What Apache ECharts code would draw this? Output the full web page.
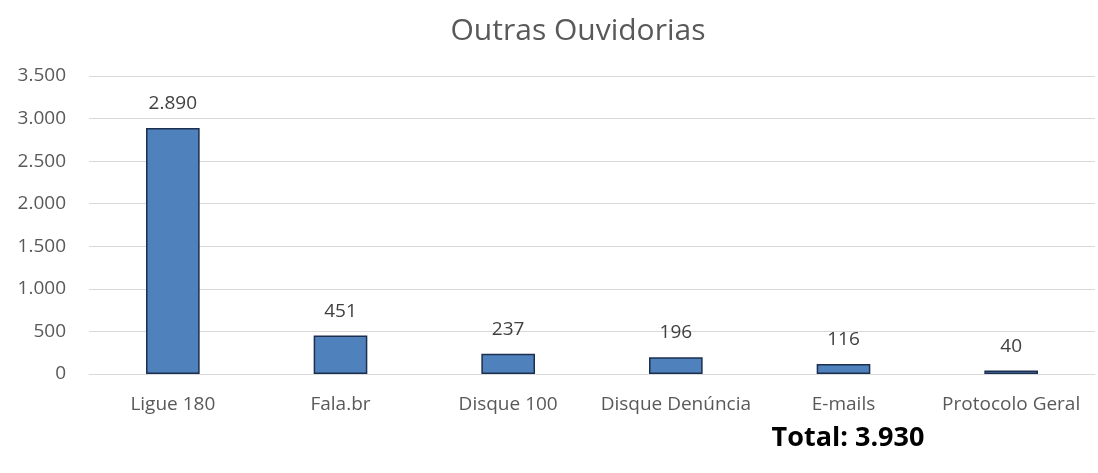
<!DOCTYPE html>
<html>
<head>
<meta charset="utf-8">
<script src="https://cdn.jsdelivr.net/npm/echarts@6/dist/echarts.min.js"></script>
<style>
  html, body { margin: 0; padding: 0; background: #fff; }
  #chart { width: 1098px; height: 473px; }
</style>
</head>
<body>
<div id="chart"></div>
<script>
// dados do gráfico
var categorias = ['Ligue 180', 'Fala.br', 'Disque 100', 'Disque Denúncia', 'E-mails', 'Protocolo Geral'];
var valores = [2890, 451, 237, 196, 116, 40];
var totalTexto = 'Total: 3.930';

function fmt(v) {
    return String(v).replace(/\B(?=(\d{3})+(?!\d))/g, '.');
}

var chart = echarts.init(document.getElementById('chart'));
var fonte = '"Open Sans", "Noto Sans", sans-serif';

var option = {
    animation: false,
    title: [
        {
            text: 'Outras Ouvidorias',
            left: 573,
            top: 11,
            textAlign: 'center',
            textStyle: { fontFamily: fonte, fontSize: 30, fontWeight: 'normal', color: '#595959' }
        },
        {
            text: totalTexto,
            left: 843,
            top: 420,
            textAlign: 'center',
            textStyle: { fontFamily: fonte, fontSize: 27, fontWeight: 'bold', color: '#000' }
        }
    ],
    grid: { left: 89, right: 3, top: 76, bottom: 99, containLabel: false },
    xAxis: {
        type: 'category',
        data: categorias,
        axisLine: { lineStyle: { color: '#d9d9d9', width: 1 } },
        axisTick: { show: false },
        axisLabel: { color: '#595959', fontFamily: fonte, fontSize: 19, margin: 21, interval: 0 }
    },
    yAxis: {
        type: 'value',
        min: 0,
        max: 3500,
        interval: 500,
        axisLine: { show: false },
        axisTick: { show: false },
        splitLine: { lineStyle: { color: '#d9d9d9', width: 1 } },
        axisLabel: {
            color: '#595959', fontFamily: fonte, fontSize: 19, margin: 23,
            formatter: function (v) { return fmt(v); }
        }
    },
    series: [
        {
            type: 'bar',
            data: valores,
            barWidth: '32%',
            itemStyle: { color: '#4f81bd', borderColor: '#1c2f4f', borderWidth: 1.5 },
            label: {
                show: true,
                position: 'top',
                distance: 15,
                color: '#404040',
                fontFamily: fonte,
                fontSize: 19,
                formatter: function (p) { return fmt(p.value); }
            }
        }
    ]
};

chart.setOption(option, true);
</script>
</body>
</html>
